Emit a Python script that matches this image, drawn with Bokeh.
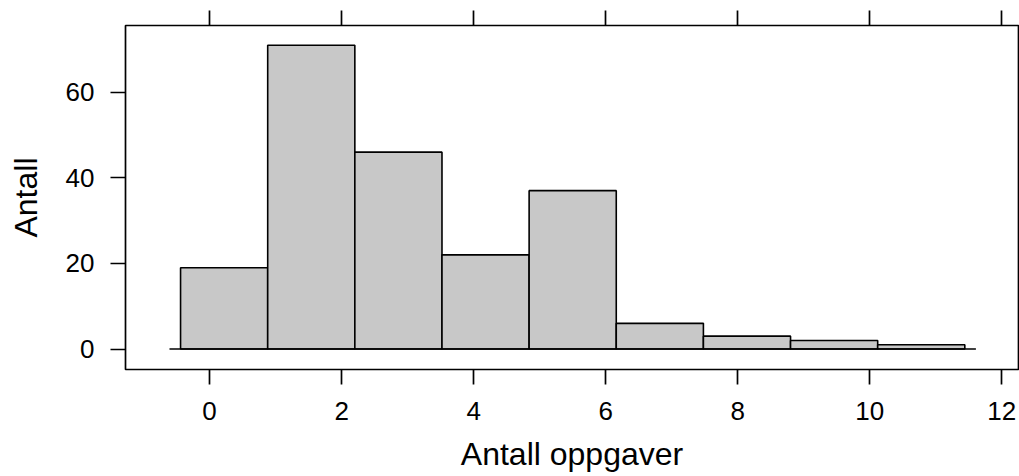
import numpy as np
from bokeh.plotting import figure
from bokeh.models import Range1d, LinearAxis, FixedTicker, CustomLabelingPolicy
from bokeh.embed import file_html
from bokeh.resources import INLINE

# Data: histogram of "Antall oppgaver"
data_min, data_max = 0, 11
counts = [19, 71, 46, 22, 37, 6, 3, 2, 1]
x_ticks = [0, 2, 4, 6, 8, 10, 12]
y_ticks = [0, 20, 40, 60]

ext = 0.04 * (data_max - data_min)
bin_edges = np.linspace(data_min - ext, data_max + ext, len(counts) + 1)
bw = bin_edges[1] - bin_edges[0]

FONT = "Liberation Sans"

p = figure(width=1019, height=476,
           x_range=Range1d(-1.274, 12.253), y_range=Range1d(-4.79, 75.6),
           x_axis_type=None, y_axis_type=None,
           output_backend="svg", toolbar_location=None,
           min_border_left=125, min_border_right=1,
           min_border_top=25, min_border_bottom=107)
p.outline_line_color = "black"
p.outline_line_width = 1.7
p.background_fill_color = "white"
p.border_fill_color = "white"

def make_axis(label_size="26px"):
    ax = LinearAxis()
    ax.axis_line_color = None
    ax.major_tick_in = 0
    ax.major_tick_out = 15
    ax.major_tick_line_color = "black"
    ax.major_tick_line_width = 1.7
    ax.minor_tick_line_color = None
    ax.major_label_text_font = FONT
    ax.major_label_text_font_size = label_size
    ax.major_label_text_color = "black"
    ax.axis_label_text_font = FONT
    ax.axis_label_text_font_size = "32px"
    ax.axis_label_text_font_style = "normal"
    ax.axis_label_text_color = "black"
    return ax

xb = make_axis()
xb.ticker = FixedTicker(ticks=x_ticks)
xb.axis_label = "Antall oppgaver"
xb.major_label_standoff = 17
xb.axis_label_standoff = 13
p.add_layout(xb, "below")

# top axis: ticks only, no labels
xt = make_axis("1px")
xt.ticker = FixedTicker(ticks=x_ticks)
xt.major_label_standoff = 0
xt.major_label_policy = CustomLabelingPolicy(code="return []")
p.add_layout(xt, "above")

yl = make_axis()
yl.ticker = FixedTicker(ticks=y_ticks)
yl.axis_label = "Antall"
yl.major_label_standoff = 16
yl.axis_label_standoff = 19
yl.major_label_orientation = "horizontal"
p.add_layout(yl, "left")

p.quad(left=bin_edges[:-1], right=bin_edges[1:], bottom=0, top=counts,
       fill_color="#C8C8C8", line_color="black", line_width=1.6)

pad = 0.127 * bw
p.segment(x0=[bin_edges[0] - pad], x1=[bin_edges[-1] + pad], y0=[0], y1=[0],
          line_color="black", line_width=1.7)

open("out.html", "w").write(file_html(p, INLINE))
